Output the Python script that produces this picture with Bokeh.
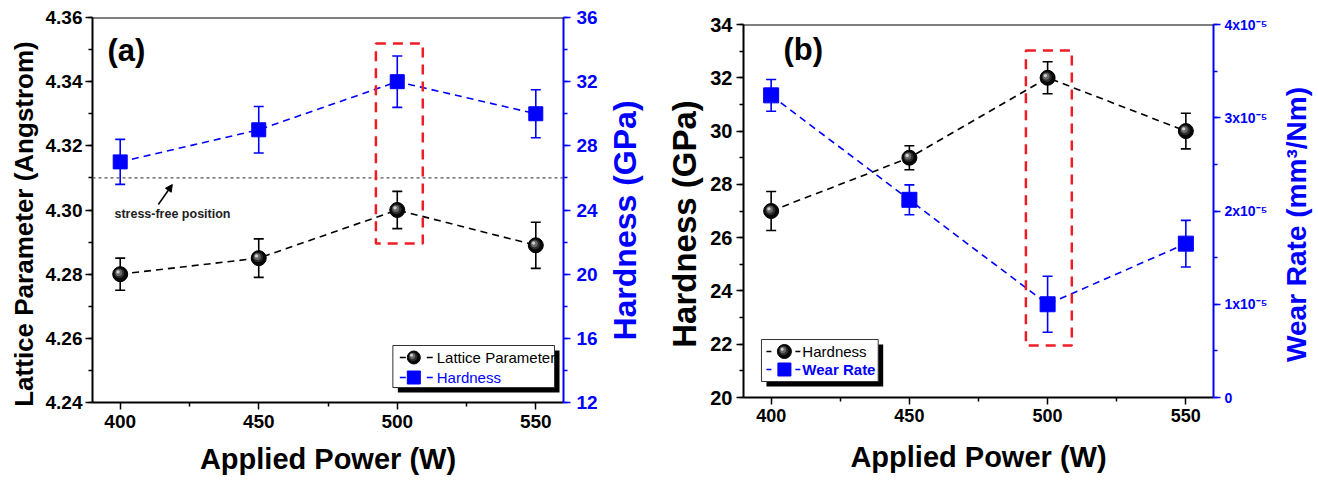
from bokeh.plotting import figure
from bokeh.models import (Range1d, LinearAxis, FixedTicker, SingleIntervalTicker, Whisker, TeeHead,
                          ColumnDataSource, Span, BoxAnnotation, Arrow, NormalHead, Label,
                          CustomJSTickFormatter, NumeralTickFormatter)
from bokeh.layouts import row
from bokeh.embed import file_html
from bokeh.resources import INLINE

# ---------------- data ----------------
power = [400, 450, 500, 550]
x_ticks = [400, 450, 500, 550]

lattice = [4.280, 4.285, 4.300, 4.289]
lattice_err = [0.005, 0.006, 0.0058, 0.0072]
hardness_a = [27.0, 29.0, 32.0, 30.0]
hardness_a_err = [1.4, 1.45, 1.6, 1.5]
stress_free = 4.31

hardness_b = [27.0, 29.0, 32.0, 30.0]
hardness_b_err = [0.73, 0.45, 0.6, 0.67]
wear_rate = [3.24e-5, 2.12e-5, 1.0e-5, 1.65e-5]
wear_rate_err = [0.17e-5, 0.16e-5, 0.3e-5, 0.25e-5]

# ---------------- style ----------------
FONT = "Liberation Sans"
BLUE = "#0000ff"
RED = "#ee1c25"
FIG_H = 481


def base_fig(width, xr, yr, left, right, top, bottom, **kw):
    p = figure(width=width, height=FIG_H, x_range=Range1d(*xr), y_range=Range1d(*yr),
               output_backend="svg", toolbar_location=None, frame_align=False,
               min_border_left=left, min_border_right=right,
               min_border_top=top, min_border_bottom=FIG_H - bottom, **kw)
    p.outline_line_color = None
    p.xgrid.visible = False
    p.ygrid.visible = False
    p.background_fill_color = "white"
    p.border_fill_color = "white"
    return p


def title_fig(width, frame_left, top, bottom, text, size, color, standoff):
    """Narrow strip that only carries a vertical (bottom-to-top) axis title."""
    t = base_fig(width, (0, 1), (0, 1), frame_left, 0, top, bottom, x_axis_location=None)
    ax = t.yaxis[0]
    ax.ticker = FixedTicker(ticks=[])
    ax.axis_line_color = None
    ax.major_tick_out = 0
    ax.major_tick_in = 0
    ax.minor_tick_out = 0
    ax.minor_tick_in = 0
    ax.major_label_text_font_size = "0px"
    ax.axis_label = text
    ax.axis_label_text_font = FONT
    ax.axis_label_text_font_style = "bold"
    ax.axis_label_text_font_size = size
    ax.axis_label_text_color = color
    ax.axis_label_standoff = standoff
    return t


def conv(frame, xr, yr):
    l, r, t, b = frame
    fx = lambda px: xr[0] + (px - l) / (r - l) * (xr[1] - xr[0])
    fy = lambda py: yr[1] - (py - t) / (b - t) * (yr[1] - yr[0])
    return fx, fy


def style_axis(ax, color, tick_size, tick_standoff, label=None, label_size=None, label_standoff=0):
    ax.axis_line_color = color
    ax.axis_line_width = 2
    ax.major_tick_line_color = color
    ax.minor_tick_line_color = color
    ax.major_tick_line_width = 1.5
    ax.minor_tick_line_width = 1.5
    ax.major_tick_out = 7
    ax.major_tick_in = 0
    ax.minor_tick_out = 4
    ax.minor_tick_in = 0
    ax.major_label_text_font = FONT
    ax.major_label_text_font_style = "bold"
    ax.major_label_text_font_size = tick_size
    ax.major_label_text_color = color
    ax.major_label_standoff = tick_standoff
    if label is not None:
        ax.axis_label = label
        ax.axis_label_text_font = FONT
        ax.axis_label_text_font_style = "bold"
        ax.axis_label_text_font_size = label_size
        ax.axis_label_text_color = color
        ax.axis_label_standoff = label_standoff


def spheres(p, xs, ys, size, dpx, dpy, y_range_name="default"):
    p.scatter(xs, ys, marker="circle", size=size, fill_color="#080808", line_color="black",
              line_width=1, y_range_name=y_range_name)
    for frac, col, off in [(0.66, "#2e2e2e", 0.8), (0.45, "#6a6a6a", 1.5), (0.22, "#d0d0d0", 2.2)]:
        p.scatter([x - off * dpx for x in xs], [y + off * dpy for y in ys], marker="circle",
                  size=size * frac, fill_color=col, line_color=None, y_range_name=y_range_name)


def whiskers(p, xs, ys, errs, color, y_range_name="default"):
    src = ColumnDataSource(dict(x=xs, lo=[v - e for v, e in zip(ys, errs)],
                                hi=[v + e for v, e in zip(ys, errs)]))
    w = Whisker(source=src, base="x", lower="lo", upper="hi", line_color=color, line_width=1.6,
                upper_head=TeeHead(size=10, line_color=color, line_width=1.6),
                lower_head=TeeHead(size=10, line_color=color, line_width=1.6),
                level="underlay", y_range_name=y_range_name)
    p.add_layout(w)


def legend_box(p, fx, fy, box, shadow=5):
    l, r, t, b = box
    p.add_layout(BoxAnnotation(left=fx(l + shadow), right=fx(r + shadow), top=fy(t + shadow),
                               bottom=fy(b + shadow), fill_color="black", fill_alpha=1,
                               line_color=None, level="underlay"))
    p.add_layout(BoxAnnotation(left=fx(l), right=fx(r), top=fy(t), bottom=fy(b),
                               fill_color="white", fill_alpha=1, line_color="#333333",
                               line_alpha=1, line_width=1, level="underlay"))


def legend_entry(p, fx, fy, cy, x_dash1, x_mark, x_dash2, x_text, marker, color, text,
                 text_style, msize, dpx, dpy):
    y = fy(cy)
    p.segment(x0=[fx(x_dash1[0]), fx(x_dash2[0])], y0=[y, y], x1=[fx(x_dash1[1]), fx(x_dash2[1])],
              y1=[y, y], line_color=color, line_width=1.6)
    if marker == "sphere":
        spheres(p, [fx(x_mark)], [y], msize, dpx, dpy)
    else:
        p.scatter([fx(x_mark)], [y], marker="square", size=msize, fill_color=BLUE, line_color=BLUE)
    p.add_layout(Label(x=fx(x_text), y=y, text=text, text_font=FONT, text_font_size="15px",
                       text_font_style=text_style, text_color=color, text_baseline="middle",
                       text_align="left"))


def highlight(p, fx, fy, box):
    l, r, t, b = box
    p.add_layout(BoxAnnotation(left=fx(l), right=fx(r), top=fy(t), bottom=fy(b),
                               fill_alpha=0, line_color=RED, line_alpha=1, line_width=2.5,
                               line_dash="10 7"))


minor_x = [(a + b) / 2 for a, b in zip(x_ticks, x_ticks[1:])]
xr = (390, 560)

# ================= panel (a) =================
yr_a = (4.24, 4.36)
yr_a2 = (12, 36)
frame_a = (92, 564, 17, 402)          # absolute page pixels
FA_X0, FA_W = 42, 558
fa = base_fig(FA_W, xr, yr_a, frame_a[0] - FA_X0, FA_X0 + FA_W - frame_a[1], frame_a[2], frame_a[3])
fa.add_layout(Span(location=yr_a[1], dimension="width", line_color="black", line_width=2))
fa.extra_y_ranges = {"hard": Range1d(*yr_a2)}
fxa, fya = conv(frame_a, xr, yr_a)
dpx_a = (xr[1] - xr[0]) / (frame_a[1] - frame_a[0])
dpy_a = (yr_a[1] - yr_a[0]) / (frame_a[3] - frame_a[2])

fa.xaxis.ticker = FixedTicker(ticks=x_ticks, minor_ticks=minor_x)
style_axis(fa.xaxis[0], "black", "19px", 5, "Applied Power (W)", "29px", 12)
fa.yaxis.ticker = SingleIntervalTicker(interval=0.02, num_minor_ticks=2)
fa.yaxis.formatter = NumeralTickFormatter(format="0.00")
style_axis(fa.yaxis[0], "black", "19px", 3)
ax_r = LinearAxis(y_range_name="hard", ticker=SingleIntervalTicker(interval=4, num_minor_ticks=2))
style_axis(ax_r, BLUE, "19px", 6)
fa.add_layout(ax_r, "right")

fa.add_layout(Span(location=stress_free, dimension="width", line_color="#555555", line_width=1.2,
                   line_dash="3 3"))
fa.add_layout(Arrow(end=NormalHead(size=7, fill_color="black", line_color="black"),
                    x_start=fxa(158), y_start=fya(204), x_end=fxa(172), y_end=fya(184),
                    line_color="black", line_width=1.5))
fa.add_layout(Label(x=fxa(114), y=fya(213), text="stress-free position", text_font=FONT,
                    text_font_size="12.5px", text_font_style="bold", text_color="#222222",
                    text_baseline="middle"))

highlight(fa, fxa, fya, (376, 423, 43, 243))

whiskers(fa, power, lattice, lattice_err, "black")
whiskers(fa, power, hardness_a, hardness_a_err, BLUE, "hard")
fa.line(power, lattice, line_color="black", line_width=1.6, line_dash="7 5")
fa.line(power, hardness_a, line_color=BLUE, line_width=1.6, line_dash="7 5", y_range_name="hard")
spheres(fa, power, lattice, 15, dpx_a, dpy_a)
fa.scatter(power, hardness_a, marker="square", size=14, fill_color=BLUE, line_color=BLUE,
           y_range_name="hard")

fa.add_layout(Label(x=fxa(107), y=fya(50), text="(a)", text_font=FONT, text_font_size="31px",
                    text_font_style="bold", text_color="black", text_baseline="middle"))

legend_box(fa, fxa, fya, (393, 555, 345, 387))
legend_entry(fa, fxa, fya, 357, (400, 406), 414, (427, 433), 437, "sphere", "black",
             "Lattice Parameter", "normal", 13, dpx_a, dpy_a)
legend_entry(fa, fxa, fya, 377, (400, 406), 414, (427, 433), 437, "square", BLUE,
             "Hardness", "normal", 13, dpx_a, dpy_a)

# vertical titles of panel (a)
la = title_fig(42, 40, 17, 430, "Lattice Parameter (Angstrom)", "26px", "black", 2)
ta = title_fig(59, 50, 17, 423, "Hardness (GPa)", "32px", BLUE, 8)

# ================= panel (b) =================
yr_b = (20, 34)
yr_b2 = (0, 4e-5)
frame_b = (743, 1214, 24, 397)
FB_X0, FB_W = 705, 565
fb = base_fig(FB_W, xr, yr_b, frame_b[0] - FB_X0, FB_X0 + FB_W - frame_b[1], frame_b[2], frame_b[3])
fb.add_layout(Span(location=yr_b[1], dimension="width", line_color="black", line_width=2))
fb.extra_y_ranges = {"wear": Range1d(*yr_b2)}
fxb, fyb = conv(frame_b, xr, yr_b)
dpx_b = (xr[1] - xr[0]) / (frame_b[1] - frame_b[0])
dpy_b = (yr_b[1] - yr_b[0]) / (frame_b[3] - frame_b[2])

fb.xaxis.ticker = FixedTicker(ticks=x_ticks, minor_ticks=minor_x)
style_axis(fb.xaxis[0], "black", "18px", 4, "Applied Power (W)", "29px", 16)
fb.yaxis.ticker = SingleIntervalTicker(interval=2, num_minor_ticks=2)
style_axis(fb.yaxis[0], "black", "20px", 4)
ax_w = LinearAxis(y_range_name="wear", ticker=SingleIntervalTicker(interval=1e-5, num_minor_ticks=2),
                  formatter=CustomJSTickFormatter(
                      code="return Math.abs(tick) < 1e-12 ? '0' : Math.round(tick*1e5) + 'x10\u207b\u2075'"))
style_axis(ax_w, BLUE, "14px", 4)
fb.add_layout(ax_w, "right")

highlight(fb, fxb, fyb, (1026, 1072, 50, 345))

whiskers(fb, power, hardness_b, hardness_b_err, "black")
whiskers(fb, power, wear_rate, wear_rate_err, BLUE, "wear")
fb.line(power, hardness_b, line_color="black", line_width=1.6, line_dash="7 5")
fb.line(power, wear_rate, line_color=BLUE, line_width=1.6, line_dash="7 5", y_range_name="wear")
spheres(fb, power, hardness_b, 15, dpx_b, dpy_b)
fb.scatter(power, wear_rate, marker="square", size=15, fill_color=BLUE, line_color=BLUE,
           y_range_name="wear")

fb.add_layout(Label(x=fxb(783), y=fyb(49), text="(b)", text_font=FONT, text_font_size="31px",
                    text_font_style="bold", text_color="black", text_baseline="middle"))

legend_box(fb, fxb, fyb, (761, 878, 339, 381))
legend_entry(fb, fxb, fyb, 351, (766, 771), 784, (795, 800), 802, "sphere", "black",
             "Hardness", "normal", 14, dpx_b, dpy_b)
legend_entry(fb, fxb, fyb, 369, (766, 771), 784, (795, 800), 802, "square", BLUE,
             "Wear Rate", "bold", 13, dpx_b, dpy_b)

# vertical titles of panel (b)
lb = title_fig(46, 44, 24, 423, "Hardness (GPa)", "33px", "black", 1)
tb = title_fig(48, 44, 24, 424, "Wear Rate (mm\u00b3/Nm)", "28px", BLUE, 3)

layout = row(la, fa, ta, lb, fb, tb)
open("out.html", "w").write(file_html(layout, INLINE))
